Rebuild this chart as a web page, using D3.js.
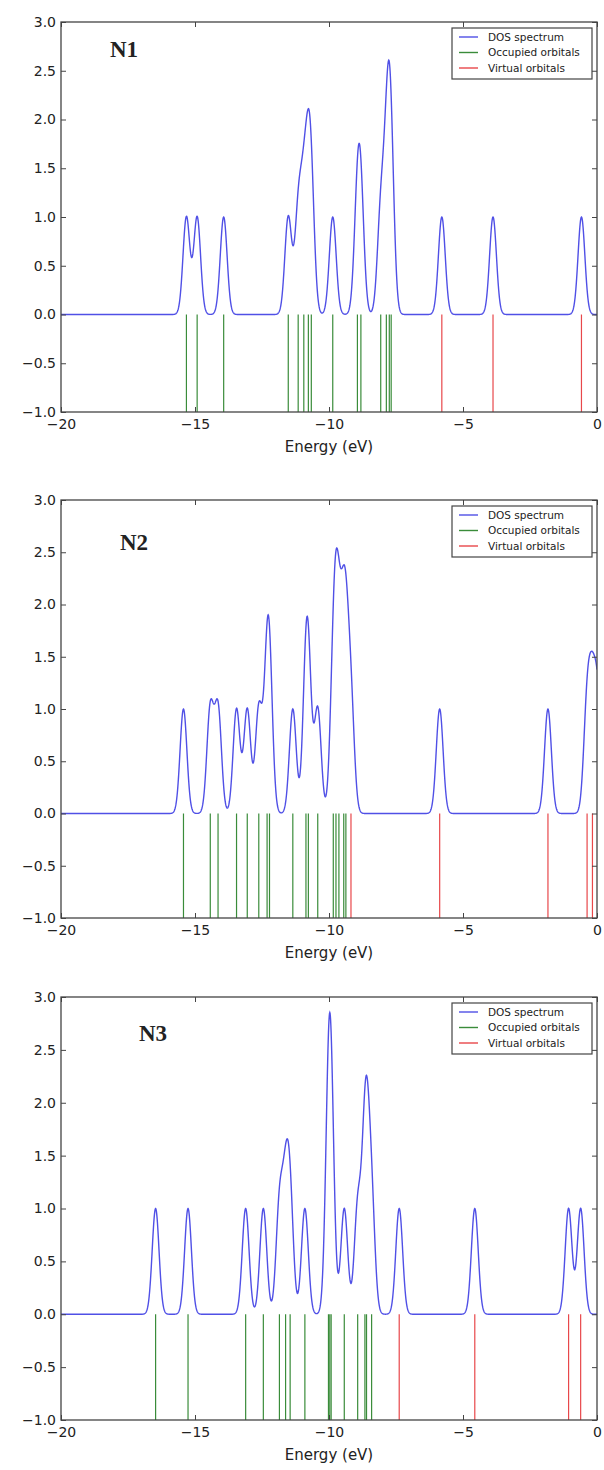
<!DOCTYPE html>
<html>
<head>
<meta charset="utf-8">
<script src="https://cdn.jsdelivr.net/npm/d3@7"></script>
<style>
  body { margin: 0; background: #fff; }
  svg text { font-family: "DejaVu Sans", sans-serif; fill: #222; }
</style>
</head>
<body>
<div id="chart"></div>
<script>
// Values (orbital energies in eV)
var energyTicks = [-20, -15, -10, -5, 0];
var dosTicks = [-1, -0.5, 0, 0.5, 1, 1.5, 2, 2.5, 3];
var legendLabels = ["DOS spectrum", "Occupied orbitals", "Virtual orbitals"];
var panelNames = ["N1", "N2", "N3"];

var n1Occupied = [-15.32, -14.92, -13.93, -11.52, -11.15, -10.94, -10.77, -10.66,
  -9.86, -8.94, -8.81, -8.07, -7.86, -7.75, -7.68];
var n1Virtual = [-5.79, -3.88, -0.58];

var n2Occupied = [-15.43, -14.43, -14.14, -13.45, -13.05, -12.62, -12.31, -12.22,
  -11.35, -10.86, -10.77, -10.42, -9.84, -9.74, -9.63, -9.45, -9.37];
var n2Virtual = [-9.18, -5.87, -1.83, -0.37, -0.17, 0.04];

var n3Occupied = [-16.47, -15.26, -13.11, -12.45, -11.85, -11.62, -11.45, -10.90,
  -10.02, -9.97, -9.92, -9.43, -8.93, -8.66, -8.60, -8.41];
var n3Virtual = [-7.38, -4.56, -1.06, -0.61];

// gaussian broadening used for the DOS curve (FWHM, eV)
var fwhm = 0.3;

var width = 604;
var height = 1470;
var left = 61, right = 597;

var colors = { dos: "#5050e6", occ: "#3a8c3a", virt: "#e8474a", frame: "#444" };

// page layout of each panel
var panels = [
  { top: 22,  bottom: 412,  labelX: 110, labelDy: 35, occ: n1Occupied, virt: n1Virtual },
  { top: 500, bottom: 918,  labelX: 120, labelDy: 50, occ: n2Occupied, virt: n2Virtual },
  { top: 997, bottom: 1420, labelX: 139, labelDy: 44, occ: n3Occupied, virt: n3Virtual }
];

var svg = d3.select("#chart")
  .append("svg")
  .attr("width", width)
  .attr("height", height);

var sigma = fwhm / (2 * Math.sqrt(2 * Math.log(2)));
var grid = d3.range(-20, 0.0001, 0.01);

// sum of unit-height gaussians on the orbital levels
function dos(levels) {
  return grid.map(function (e) {
    var s = 0;
    levels.forEach(function (l) {
      s += Math.exp(-(e - l) * (e - l) / (2 * sigma * sigma));
    });
    return [e, s];
  });
}

var x = d3.scaleLinear().domain([-20, 0]).range([left, right]);

panels.forEach(function (p, i) {
  var y = d3.scaleLinear().domain([-1, 3]).range([p.bottom, p.top]);
  var g = svg.append("g").attr("class", "panel");

  g.append("clipPath").attr("id", "clip" + i)
    .append("rect")
    .attr("x", left).attr("y", p.top)
    .attr("width", right - left).attr("height", p.bottom - p.top);

  var plot = g.append("g").attr("clip-path", "url(#clip" + i + ")");

  // orbital sticks from 0 down to -1
  plot.selectAll("line.occ").data(p.occ).enter()
    .append("line").attr("class", "occ")
    .attr("x1", function (d) { return x(d); })
    .attr("x2", function (d) { return x(d); })
    .attr("y1", y(0)).attr("y2", y(-1))
    .attr("stroke", colors.occ).attr("stroke-width", 1.2);

  plot.selectAll("line.virt").data(p.virt).enter()
    .append("line").attr("class", "virt")
    .attr("x1", function (d) { return x(d); })
    .attr("x2", function (d) { return x(d); })
    .attr("y1", y(0)).attr("y2", y(-1))
    .attr("stroke", colors.virt).attr("stroke-width", 1.2);

  // DOS spectrum
  var line = d3.line()
    .x(function (d) { return x(d[0]); })
    .y(function (d) { return y(d[1]); });

  plot.append("path")
    .datum(dos(p.occ.concat(p.virt)))
    .attr("d", line)
    .attr("fill", "none")
    .attr("stroke", colors.dos)
    .attr("stroke-width", 1.4);

  // axes: matplotlib classic, ticks inside on every side
  var xb = g.append("g").attr("transform", "translate(0," + p.bottom + ")")
    .call(d3.axisBottom(x).tickValues(energyTicks).tickSizeInner(-5).tickSizeOuter(0)
      .tickPadding(7).tickFormat(d3.format("d")));
  var xt = g.append("g").attr("transform", "translate(0," + p.top + ")")
    .call(d3.axisTop(x).tickValues(energyTicks).tickSizeInner(-5).tickSizeOuter(0)
      .tickFormat(""));
  var yl = g.append("g").attr("transform", "translate(" + left + ",0)")
    .call(d3.axisLeft(y).tickValues(dosTicks).tickSizeInner(-5).tickSizeOuter(0)
      .tickPadding(5).tickFormat(d3.format(".1f")));
  var yr = g.append("g").attr("transform", "translate(" + right + ",0)")
    .call(d3.axisRight(y).tickValues(dosTicks).tickSizeInner(-5).tickSizeOuter(0)
      .tickFormat(""));

  [xb, xt, yl, yr].forEach(function (a) {
    a.select(".domain").remove();
    a.selectAll(".tick line").attr("stroke", colors.frame);
    a.selectAll("text").attr("font-size", 14).attr("fill", "#222")
      .attr("font-family", "DejaVu Sans, sans-serif");
  });

  g.append("rect")
    .attr("x", left).attr("y", p.top)
    .attr("width", right - left).attr("height", p.bottom - p.top)
    .attr("fill", "none").attr("stroke", colors.frame).attr("stroke-width", 1.3);

  // x-axis title
  g.append("text")
    .attr("x", (left + right) / 2)
    .attr("y", p.bottom + 40)
    .attr("text-anchor", "middle")
    .attr("font-size", 15)
    .text("Energy (eV)");

  // panel name
  g.append("text")
    .attr("x", p.labelX)
    .attr("y", p.top + p.labelDy)
    .attr("font-weight", "bold")
    .attr("font-size", 23)
    .style("font-family", "'Liberation Serif', serif")
    .text(panelNames[i]);

  // legend
  var lg = g.append("g").attr("transform", "translate(452," + (p.top + 6) + ")");
  lg.append("rect")
    .attr("width", 140).attr("height", 51)
    .attr("fill", "#fff").attr("stroke", colors.frame).attr("stroke-width", 1.2);
  var legendColors = [colors.dos, colors.occ, colors.virt];
  legendLabels.forEach(function (lab, k) {
    var ly = 9 + k * 15.5;
    lg.append("line")
      .attr("x1", 7).attr("x2", 26).attr("y1", ly).attr("y2", ly)
      .attr("stroke", legendColors[k]).attr("stroke-width", 1.4);
    lg.append("text")
      .attr("x", 36).attr("y", ly + 3.5)
      .attr("font-size", 10.5)
      .attr("fill", "#444")
      .text(lab);
  });
});
</script>
</body>
</html>
